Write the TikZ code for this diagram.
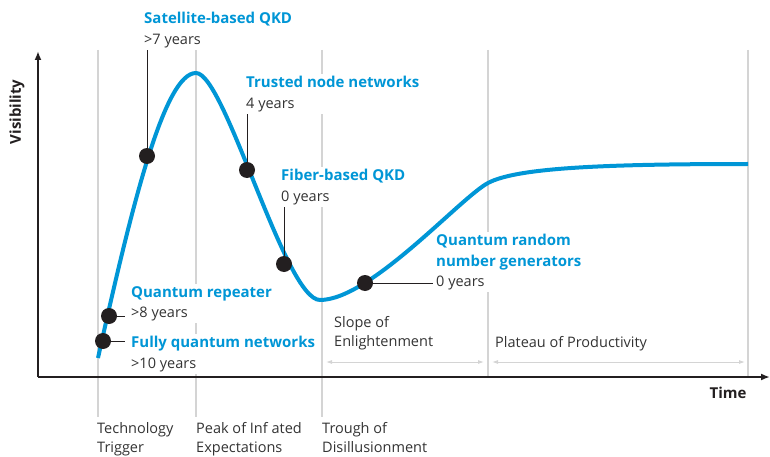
\documentclass[tikz,border=0pt]{standalone}
\usepackage{fontspec}
\setmainfont{Open Sans}
\usetikzlibrary{arrows.meta}
\definecolor{hypeblue}{RGB}{0,150,214}
\definecolor{txtgray}{RGB}{51,51,51}
\definecolor{axisgray}{RGB}{35,31,32}
\definecolor{guidegray}{RGB}{212,212,212}
\tikzset{
  guide/.style={guidegray, line width=1.6pt},
  span/.style={guidegray, line width=0.9pt, {Latex[length=6pt,width=4pt]}-{Latex[length=6pt,width=4pt]}},
  axis/.style={axisgray, line width=1.8pt, -{Latex[length=9pt,width=7pt]}},
  hype/.style={hypeblue, line width=4pt},
  dot/.style={circle, fill=axisgray, minimum size=16pt, inner sep=0pt},
  lead/.style={axisgray, line width=1pt},
  techlbl/.style={anchor=north west, fill=white, inner sep=2pt, align=left, text=txtgray, font=\fontsize{14.5}{20.5}\selectfont},
  stagelbl/.style={anchor=north west, inner sep=0pt, align=left, text=txtgray, font=\fontsize{14.5}{19.5}\selectfont}
}
\newcommand{\tname}[1]{{\fontsize{15}{20.5}\selectfont\bfseries\color{hypeblue}#1}}

\begin{document}
\begin{tikzpicture}[x=1pt,y=-1pt]
  \useasboundingbox (0,0) rectangle (770,457);

  % phase guides
  \draw [guide] (98,50)  -- (98,417);     % trigger
  \draw [guide] (196,50) -- (196,417);    % peak
  \draw [guide] (322,50) -- (322,417);    % trough
  \draw [guide] (488,50) -- (488,376);    % slope
  \draw [guide] (748,50) -- (748,376);    % plateau
  \draw [span]  (326,362) -- (484,362);
  \draw [span]  (492,362) -- (745,362);

  % axes
  \draw [axis] (38,377) -- (38,51);
  \draw [axis] (38,377) -- (770,377);
  \node (vis)  [rotate=90, text=axisgray, font=\fontsize{15}{18}\selectfont\bfseries] at (17,112) {Visibility};
  \node (time) [text=axisgray, font=\fontsize{15}{18}\selectfont\bfseries] at (728,393) {Time};

  % technology labels
  \node (sat)  [techlbl] at (142,10)  {\tname{Satellite-based QKD}\\>7 years};
  \node (trn)  [techlbl] at (244,74)  {\tname{Trusted node networks}\\4 years};
  \node (fib)  [techlbl] at (279,167) {\tname{Fiber-based QKD}\\0 years};
  \node (qrng) [techlbl] at (434,232) {\tname{Quantum random}\\\tname{number generators}\\0 years};
  \node (rep)  [techlbl] at (129,284) {\tname{Quantum repeater}\\>8 years};
  \node (fqn)  [techlbl] at (129,334) {\tname{Fully quantum networks}\\>10 years};

  % hype curve
  \draw [hype] (98,358) .. controls (133,200) and (165,73) .. (196,73)
               .. controls (225,73) and (285,300) .. (320,300)
               .. controls (370,300) and (460,198) .. (488,183)
               .. controls (516,168) and (600,164) .. (748,164);

  % technologies on the curve
  \node (dsat)  [dot] at (147,156) {};
  \node (dtrn)  [dot] at (247,170) {};
  \node (dfib)  [dot] at (284,264) {};
  \node (dqrng) [dot] at (365,283) {};
  \node (drep)  [dot] at (109,316) {};
  \node (dfqn)  [dot] at (103,341) {};
  \draw [lead] (dsat.center)  -- (dsat |- sat.south);
  \draw [lead] (dtrn.center)  -- (dtrn |- trn.south);
  \draw [lead] (dfib.center)  -- (dfib |- fib.south);
  \draw [lead] (dqrng.center) -- ([xshift=-1pt]qrng.west |- dqrng);
  \draw [lead] (drep.center)  -- ([xshift=-4pt]rep.west |- drep);
  \draw [lead] (dfqn.center)  -- ([xshift=-4pt]fqn.west |- dfqn);

  % phase names
  \node (trig)  [stagelbl] at (97,422)  {Technology\\Trigger};
  \node (peak)  [stagelbl] at (196,422) {Peak of Inf ated\\Expectations};
  \node (trgh)  [stagelbl] at (322,422) {Trough of\\Disillusionment};
  \node (slope) [stagelbl] at (334,316) {Slope of\\Enlightenment};
  \node (plat)  [stagelbl] at (495,336) {Plateau of Productivity};
\end{tikzpicture}
\end{document}
